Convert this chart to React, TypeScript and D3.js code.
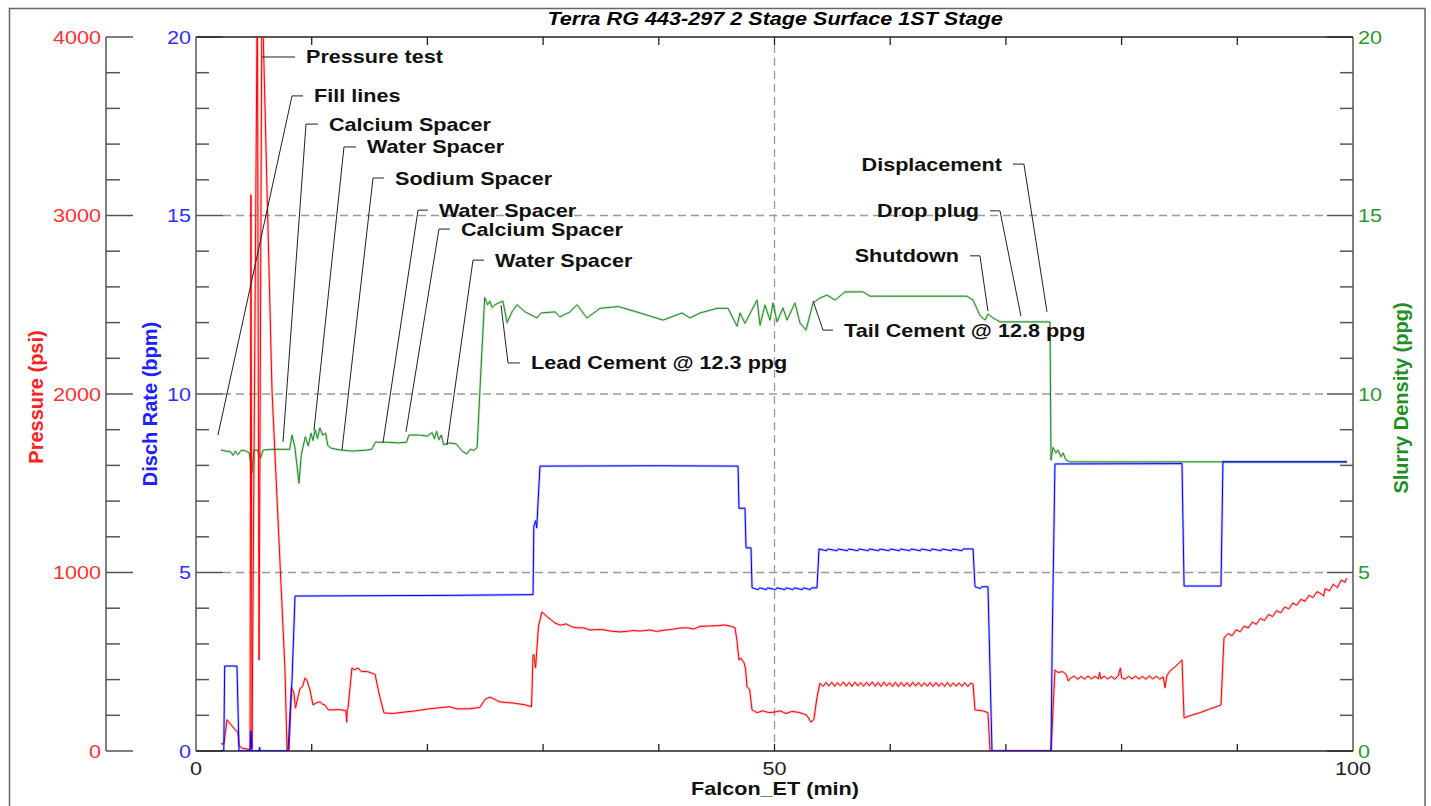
import * as d3 from "d3";

// chart text
const title = "Terra RG 443-297 2 Stage Surface 1ST Stage";
const xTitle = "Falcon_ET (min)";
const pressureTitle = "Pressure (psi)";
const rateTitle = "Disch Rate (bpm)";
const densityTitle = "Slurry Density (ppg)";

const xLabelTicks = [0, 50, 100];
const xMinorTicks = [10, 20, 30, 40, 50, 60, 70, 80, 90];
const pressureTicks = [0, 1000, 2000, 3000, 4000];
const rateTicks = [0, 5, 10, 15, 20];
const densityTicks = [0, 5, 10, 15, 20];
const gridLevels = [5, 10, 15];
const gridTimes = [50];

// [minutes, psi]
const pressure: [number, number][] = [
	[2.16, 40], [2.42, 40], [2.68, 175], [3.0, 150], [3.3, 125], [3.63, 105], [3.72, 30], [4.0, 15], [4.67, 8],
	[4.75, 3115], [4.84, 15], [5.3, 4300], [5.45, 510], [5.7, 4300], [6.57, 2020], [7.69, 455], [7.87, 0], [8.04, 0],
	[8.25, 355], [8.45, 330], [8.6, 240], [8.8, 300], [8.99, 350], [9.2, 360], [9.42, 409], [9.6, 395], [9.85, 342],
	[10.11, 258], [10.4, 270], [10.72, 275], [10.95, 262], [11.15, 258], [11.4, 232], [11.58, 230], [12.5, 232],
	[12.96, 225], [13.02, 162], [13.08, 232], [13.14, 240], [13.48, 465], [13.7, 455], [14.0, 465], [14.3, 445],
	[14.8, 445], [15.47, 430], [15.9, 300], [16.25, 213], [17.0, 210], [18.0, 218], [19.0, 225], [20.0, 235],
	[21.0, 242], [21.95, 248], [22.5, 236], [23.5, 236], [24.1, 240], [24.55, 245], [25.0, 290], [25.41, 302],
	[26.27, 275], [27.5, 268], [28.5, 258], [29.0, 248], [29.13, 538], [29.2, 540], [29.35, 465], [29.6, 700],
	[29.9, 779], [30.3, 755], [30.6, 740], [31.03, 717], [31.5, 705], [32.0, 712], [32.5, 695], [33.0, 690],
	[33.5, 690], [34.05, 678], [34.6, 680], [35.2, 680], [35.8, 672], [36.65, 667], [37.2, 670], [37.8, 675],
	[38.4, 672], [39.24, 678], [39.8, 670], [40.5, 677], [41.2, 682], [41.83, 689], [42.5, 690], [43.0, 683],
	[43.56, 698], [44.3, 700], [45.0, 702], [45.72, 706], [46.3, 698], [46.59, 690], [46.75, 620], [46.93, 510],
	[47.1, 520], [47.36, 495], [47.5, 460], [47.62, 360], [47.85, 345], [48.06, 230], [48.5, 215], [49.0, 225],
	[49.5, 215], [50.0, 218], [50.5, 225], [51.0, 210], [51.5, 222], [52.2, 215], [52.8, 200], [53.15, 162],
	[53.4, 175], [53.67, 300], [53.93, 380],
	[54.2, 362], [54.45, 384], [54.7, 364], [54.95, 386], [55.2, 362], [55.45, 383], [55.7, 365], [55.95, 387],
	[56.2, 363], [56.45, 384], [56.7, 362], [56.95, 386], [57.2, 364], [57.45, 383], [57.7, 363], [57.95, 385],
	[58.2, 365], [58.45, 387], [58.7, 363], [58.95, 384], [59.2, 362], [59.45, 386], [59.7, 364], [59.95, 383],
	[60.2, 362], [60.45, 385], [60.7, 361], [60.95, 384], [61.2, 363], [61.45, 383], [61.7, 362], [61.95, 385],
	[62.2, 364], [62.45, 384], [62.7, 362], [62.95, 382], [63.2, 363], [63.45, 384], [63.7, 361], [63.95, 383],
	[64.2, 363], [64.45, 382], [64.7, 362], [64.95, 384], [65.2, 361], [65.45, 382], [65.7, 363], [65.95, 381],
	[66.2, 362], [66.45, 383], [66.7, 361], [66.95, 380],
	[67.16, 375], [67.33, 230], [68.0, 225], [68.45, 215], [68.63, 0], [73.9, 0], [74.24, 454], [74.5, 440],
	[74.9, 445], [75.2, 430], [75.4, 392],
	[75.54, 405], [75.9, 420], [76.2, 402], [76.5, 418], [76.8, 403], [77.1, 420], [77.4, 404], [77.7, 418],
	[78.0, 405], [78.1, 440], [78.2, 405], [78.5, 419], [78.8, 403], [79.1, 418], [79.4, 402], [79.7, 420],
	[79.9, 465], [80.0, 410], [80.3, 402], [80.6, 419], [80.9, 404], [81.2, 420], [81.5, 403], [81.8, 418],
	[82.1, 402], [82.4, 421], [82.7, 404], [83.0, 419], [83.3, 403], [83.6, 415],
	[83.75, 355], [83.9, 420], [84.2, 450], [84.6, 470], [85.0, 495], [85.22, 510], [85.4, 185], [86.0, 200],
	[86.8, 215], [87.6, 235], [88.3, 250], [88.59, 258],
	[88.85, 633], [89.2, 658], [89.55, 646], [89.9, 679], [90.25, 668], [90.6, 700], [90.95, 689], [91.3, 722],
	[91.65, 710], [92.0, 743], [92.35, 731], [92.7, 765], [93.05, 753], [93.4, 786], [93.75, 774], [94.1, 807],
	[94.45, 796], [94.8, 829], [95.15, 817], [95.5, 850], [95.85, 839], [96.2, 872], [96.55, 860], [96.9, 893],
	[97.25, 880], [97.45, 868], [97.6, 910], [97.95, 897], [98.3, 935], [98.65, 915], [99.0, 958], [99.31, 945],
	[99.45, 968],
];

// [minutes, bpm]
const rate: [number, number][] = [
	[2.16, 0], [2.4, 0], [2.48, 2.38], [3.54, 2.38], [3.72, 0], [4.67, 0], [4.75, 0.55], [4.84, 0], [5.45, 0],
	[5.5, 0.1], [5.55, 0], [7.95, 0], [8.3, 2.0], [8.56, 4.34], [15, 4.35], [22, 4.36], [29.13, 4.38], [29.2, 6.3],
	[29.35, 6.45], [29.45, 6.25], [29.73, 7.98], [40, 7.99], [46.85, 7.98], [46.93, 6.8], [47.45, 6.8],
	[47.54, 5.69], [47.97, 5.69], [48.06, 4.57],
	[48.6, 4.52], [48.7, 4.57], [49.3, 4.52], [49.4, 4.57], [50.1, 4.52], [50.2, 4.57], [50.9, 4.52], [51.0, 4.57],
	[51.6, 4.52], [51.7, 4.57], [52.4, 4.52], [52.5, 4.57], [53.1, 4.52], [53.2, 4.57], [53.67, 4.57],
	[53.85, 5.66], [54.5, 5.61], [54.6, 5.66], [55.4, 5.61], [55.5, 5.66], [56.3, 5.61], [56.4, 5.66],
	[57.2, 5.61], [57.3, 5.66], [58.1, 5.61], [58.2, 5.66], [59.0, 5.61], [59.1, 5.66], [59.9, 5.61], [60.0, 5.66],
	[60.8, 5.61], [60.9, 5.66], [61.7, 5.61], [61.8, 5.66], [62.6, 5.61], [62.7, 5.66], [63.5, 5.61], [63.6, 5.66],
	[64.4, 5.61], [64.5, 5.66], [65.3, 5.61], [65.4, 5.66], [66.2, 5.61], [66.3, 5.66], [67.16, 5.66],
	[67.33, 4.6], [67.8, 4.55], [67.9, 4.6], [68.45, 4.6], [68.8, 0], [73.9, 0], [74.0, 3.0], [74.24, 8.04],
	[85.22, 8.05], [85.4, 4.62], [88.59, 4.62], [88.76, 8.1], [99.48, 8.1],
];

// [minutes, ppg]
const density: [number, number][] = [
	[2.16, 8.43], [2.6, 8.4], [3.0, 8.38], [3.2, 8.28], [3.4, 8.4], [3.63, 8.3], [3.9, 8.42], [4.2, 8.42],
	[4.6, 8.35], [4.84, 7.8], [5.0, 8.42], [5.3, 8.43], [5.6, 8.22], [5.8, 8.43], [6.5, 8.45], [7.0, 8.45],
	[8.1, 8.45], [8.3, 8.85], [8.55, 8.5], [8.9, 7.5], [9.1, 8.3], [9.45, 8.8], [9.7, 8.55], [9.95, 8.9],
	[10.1, 8.7], [10.3, 9.0], [10.5, 8.75], [10.7, 9.05], [10.95, 8.85], [11.2, 8.9], [11.4, 8.55], [11.7, 8.48],
	[12.5, 8.43], [13.5, 8.4], [14.8, 8.43], [15.2, 8.45], [15.5, 8.65], [16.5, 8.65], [17.5, 8.63], [18.2, 8.65],
	[18.4, 8.85], [19.3, 8.85], [20.0, 8.82], [20.4, 8.92], [20.6, 8.75], [20.8, 8.95], [21.0, 8.72], [21.2, 8.85],
	[21.4, 8.58], [21.9, 8.63], [22.5, 8.6], [23.0, 8.4], [23.4, 8.32], [23.7, 8.45], [24.0, 8.42], [24.3, 8.5],
	[24.6, 10.5], [24.95, 12.7], [25.2, 12.5], [25.4, 12.6], [25.6, 12.42], [25.85, 12.5], [26.15, 12.55],
	[26.53, 12.6], [26.88, 12.0], [27.31, 12.3], [27.74, 12.5], [28.44, 12.3], [29.47, 12.13], [29.82, 12.27],
	[31.03, 12.3], [31.46, 12.16], [32.33, 12.3], [32.93, 12.5], [33.79, 12.13], [34.92, 12.4], [36.5, 12.45],
	[38.38, 12.27], [40.36, 12.07], [42.01, 12.27], [42.7, 12.13], [43.56, 12.27], [45.03, 12.4], [45.98, 12.4],
	[46.76, 11.9], [47.02, 12.27], [47.45, 11.98], [48.49, 12.63], [48.75, 11.93], [49.18, 12.49], [49.61, 12.07],
	[49.87, 12.55], [50.22, 12.02], [50.73, 12.41], [51.08, 12.07], [51.77, 12.55], [52.2, 11.99], [52.72, 11.79],
	[53.33, 12.55], [53.93, 12.69], [54.54, 12.77], [55.23, 12.63], [56.09, 12.86], [57.65, 12.86], [58.25, 12.74],
	[60.85, 12.74], [66.64, 12.74], [67.16, 12.63], [67.76, 12.2], [68.2, 12.07], [68.45, 12.24], [68.89, 12.13],
	[69.49, 12.02], [73.81, 12.02], [73.9, 8.15], [74.07, 8.5], [74.33, 8.35], [74.5, 8.43], [74.76, 8.24],
	[74.94, 8.35], [75.19, 8.15], [75.54, 8.1], [99.48, 8.1],
];

// event callouts, in minutes / ppg: leader runs anchor -> knee -> end, text sits past end
const events = [
	{ label: "Pressure test", anchor: [5.7, 19.44], knee: [5.7, 19.44], end: 8.56, side: "right" },
	{ label: "Fill lines", anchor: [1.9, 8.85], knee: [8.3, 18.35], end: 9.25, side: "right" },
	{ label: "Calcium Spacer", anchor: [7.52, 8.66], knee: [9.51, 17.56], end: 10.54, side: "right" },
	{ label: "Water Spacer", anchor: [10.2, 8.99], knee: [12.79, 16.92], end: 13.83, side: "right" },
	{ label: "Sodium Spacer", anchor: [12.62, 8.43], knee: [15.3, 16.05], end: 16.25, side: "right" },
	{ label: "Water Spacer", anchor: [16.16, 8.63], knee: [19.19, 15.15], end: 20.05, side: "right" },
	{ label: "Calcium Spacer", anchor: [18.15, 8.94], knee: [21.0, 14.62], end: 21.95, side: "right" },
	{ label: "Water Spacer", anchor: [21.69, 8.57], knee: [23.94, 13.75], end: 24.9, side: "right" },
	{ label: "Lead Cement @ 12.3 ppg", anchor: [26.36, 12.49], knee: [26.97, 10.87], end: 28.0, side: "right" },
	{ label: "Tail Cement @ 12.8 ppg", anchor: [53.33, 12.61], knee: [54.19, 11.79], end: 55.06, side: "right" },
	{ label: "Shutdown", anchor: [68.45, 12.32], knee: [67.76, 13.87], end: 66.9, side: "left" },
	{ label: "Drop plug", anchor: [71.3, 12.18], knee: [69.49, 15.13], end: 68.63, side: "left" },
	{ label: "Displacement", anchor: [73.55, 12.3], knee: [71.56, 16.44], end: 70.61, side: "left" },
];

const W = 1431;
const H = 806;
const plot = { left: 196, right: 1353, top: 37, bottom: 751 };
const pressureAxisX = 106;
const font = "'Liberation Sans', Arial, sans-serif";
const SX = 1.2;

const x = d3.scaleLinear().domain([0, 100]).range([plot.left, plot.right]);
const yP = d3.scaleLinear().domain([0, 4000]).range([plot.bottom, plot.top]);
const yR = d3.scaleLinear().domain([0, 20]).range([plot.bottom, plot.top]);
const yD = d3.scaleLinear().domain([0, 20]).range([plot.bottom, plot.top]);

function Txt({ x, y, anchor = "start", size = 18, weight = "normal", fill = "#000", italic = false, children }: any) {
	return (
		<text
			transform={`translate(${x},${y}) scale(${SX},1)`}
			textAnchor={anchor}
			fontSize={size}
			fontWeight={weight}
			fontStyle={italic ? "italic" : "normal"}
			fontFamily={font}
			fill={fill}
		>
			{children}
		</text>
	);
}

function VTitle({ x, y, fill, children }: any) {
	return (
		<text
			transform={`translate(${x},${y}) rotate(-90)`}
			textAnchor="middle"
			fontSize={20}
			fontWeight="bold"
			fontFamily={font}
			fill={fill}
		>
			{children}
		</text>
	);
}

function Series({ data, y, color }: { data: [number, number][]; y: any; color: string }) {
	const line = d3
		.line<[number, number]>()
		.x((d) => x(d[0]))
		.y((d) => y(d[1]));
	const d = line(data) ?? "";
	return (
		<g clipPath="url(#plotClip)">
			<path d={d} fill="none" stroke={color} strokeOpacity={0.22} strokeWidth={2.6} strokeLinejoin="round" />
			<path d={d} fill="none" stroke={color} strokeWidth={1} strokeLinejoin="round" />
		</g>
	);
}

export default function App() {
	const pressureMinor = d3.range(0, 4001, 200);
	const rateMinor = d3.range(0, 20.01, 1);
	const axisGray = "#555";
	const grid = "#9a9a9a";

	return (
		<svg width={W} height={H} style={{ position: "absolute", left: 0, top: 0, display: "block", background: "#fff" }}>
			<defs>
				<clipPath id="plotClip">
					<rect x={plot.left} y={plot.top} width={plot.right - plot.left} height={plot.bottom - plot.top} />
				</clipPath>
			</defs>

			{/* outer frame */}
			<rect x={9.5} y={8.5} width={1415.5} height={900} fill="none" stroke="#666" strokeWidth={1.5} />

			<Txt x={775} y={25} anchor="middle" size={18} weight="bold" italic>
				{title}
			</Txt>

			{/* grid */}
			{gridLevels.map((v) => (
				<line key={`gh${v}`} x1={plot.left + 27} x2={plot.right - 26} y1={yR(v)} y2={yR(v)} stroke={grid} strokeWidth={1.3} strokeDasharray="8,5" />
			))}
			{gridTimes.map((t) => (
				<line key={`gv${t}`} x1={x(t)} x2={x(t)} y1={plot.top + 8} y2={plot.bottom - 7} stroke={grid} strokeWidth={1.3} strokeDasharray="8,5" />
			))}

			{/* pressure axis */}
			<line x1={pressureAxisX} x2={pressureAxisX} y1={plot.top} y2={plot.bottom} stroke={axisGray} strokeWidth={1.5} />
			{pressureMinor.map((v) => (
				<line key={`pm${v}`} x1={pressureAxisX} x2={pressureAxisX + (v % 1000 === 0 ? 27 : 14)} y1={yP(v)} y2={yP(v)} stroke={axisGray} strokeWidth={1.5} />
			))}
			{pressureTicks.map((v) => (
				<Txt key={`pt${v}`} x={101} y={yP(v) + 6.5} anchor="end" fill="#ff3030">
					{v}
				</Txt>
			))}

			{/* rate axis */}
			<line x1={plot.left} x2={plot.left} y1={plot.top} y2={plot.bottom} stroke={axisGray} strokeWidth={1.5} />
			{rateMinor.map((v) => (
				<line key={`rm${v}`} x1={plot.left} x2={plot.left + (v % 5 === 0 ? 27 : 13)} y1={yR(v)} y2={yR(v)} stroke={axisGray} strokeWidth={1.5} />
			))}
			{rateTicks.map((v) => (
				<Txt key={`rt${v}`} x={191} y={yR(v) + 6.5} anchor="end" fill="#3030ff">
					{v}
				</Txt>
			))}

			{/* density axis */}
			<line x1={plot.right} x2={plot.right} y1={plot.top} y2={plot.bottom} stroke={axisGray} strokeWidth={1.5} />
			{rateMinor.map((v) => (
				<line key={`dm${v}`} x1={plot.right - (v % 5 === 0 ? 26 : 13)} x2={plot.right} y1={yD(v)} y2={yD(v)} stroke={axisGray} strokeWidth={1.5} />
			))}
			{densityTicks.map((v) => (
				<Txt key={`dt${v}`} x={1358} y={yD(v) + 6.5} anchor="start" fill="#2a9a2a">
					{v}
				</Txt>
			))}

			{/* time axis */}
			<line x1={plot.left} x2={plot.right} y1={plot.top} y2={plot.top} stroke="#222" strokeWidth={1.5} />
			<line x1={plot.left} x2={plot.right} y1={plot.bottom} y2={plot.bottom} stroke="#222" strokeWidth={1.5} />
			{xMinorTicks.map((t) => (
				<g key={`xt${t}`}>
					<line x1={x(t)} x2={x(t)} y1={plot.bottom} y2={plot.bottom - 7} stroke="#222" strokeWidth={1.3} />
					<line x1={x(t)} x2={x(t)} y1={plot.top} y2={plot.top + 8} stroke="#222" strokeWidth={1.3} />
				</g>
			))}
			{xLabelTicks.map((t) => (
				<Txt key={`xl${t}`} x={x(t)} y={775} anchor="middle" fill="#222">
					{t}
				</Txt>
			))}

			{/* axis titles */}
			<Txt x={775} y={795} anchor="middle" weight="bold" fill="#111">
				{xTitle}
			</Txt>
			<VTitle x={43} y={397} fill="#ff2020">
				{pressureTitle}
			</VTitle>
			<VTitle x={157} y={404} fill="#2020ff">
				{rateTitle}
			</VTitle>
			<VTitle x={1408} y={398} fill="#1f8f1f">
				{densityTitle}
			</VTitle>

			{/* data */}
			<Series data={density} y={yD} color="#1e8a1e" />
			<Series data={pressure} y={yP} color="#ff0000" />
			<Series data={rate} y={yR} color="#0000ff" />

			{/* callouts */}
			{events.map((e, i) => {
				const ax = x(e.anchor[0]);
				const ay = yD(e.anchor[1]);
				const kx = x(e.knee[0]);
				const ky = yD(e.knee[1]);
				const ex = x(e.end);
				const tx = e.side === "right" ? ex + 11 : ex - 11;
				return (
					<g key={`ev${i}`}>
						<path d={`M${ax},${ay}L${kx},${ky}L${ex},${ky}`} fill="none" stroke="#222" strokeWidth={1} />
						<Txt x={tx} y={ky + 6.5} anchor={e.side === "right" ? "start" : "end"} weight="bold" fill="#111">
							{e.label}
						</Txt>
					</g>
				);
			})}
		</svg>
	);
}
